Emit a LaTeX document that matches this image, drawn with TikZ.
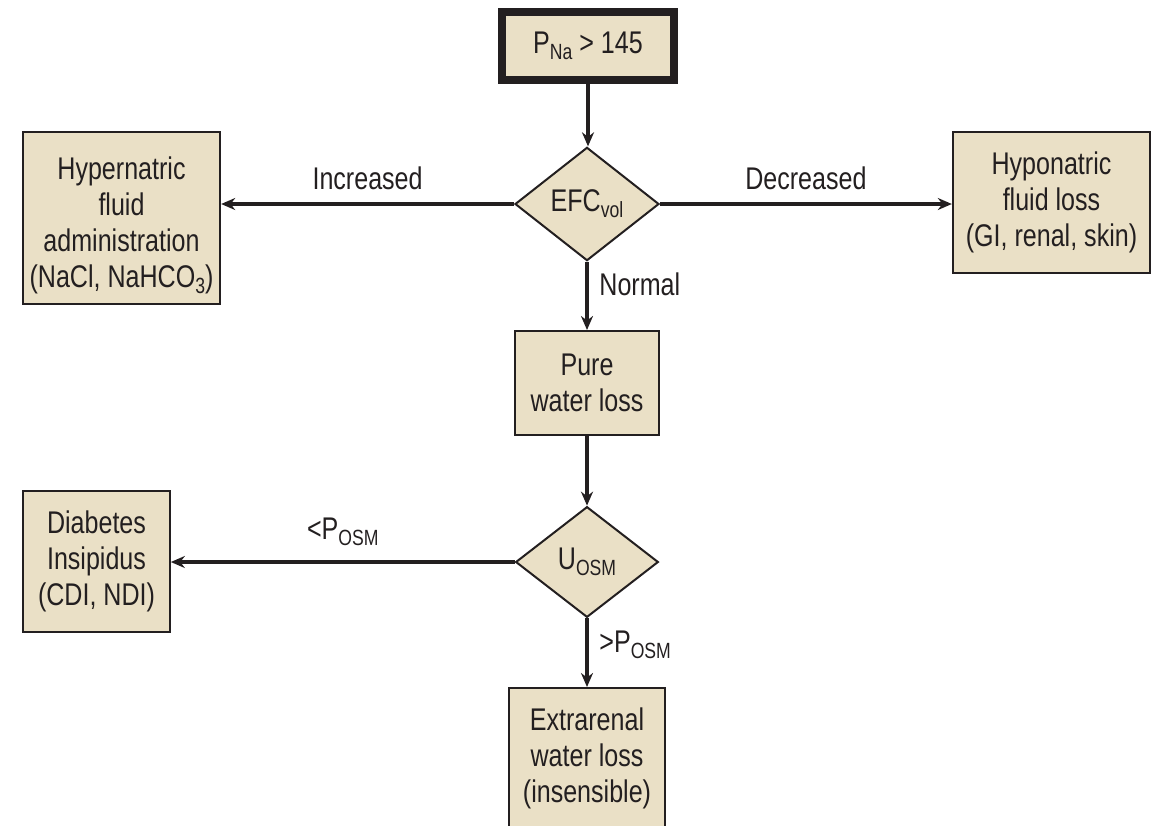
\documentclass[tikz,border=0pt]{standalone}
\usepackage{fontspec}
\setmainfont{Liberation Sans}[FakeStretch=0.8]
\usetikzlibrary{shapes.geometric,arrows.meta}
\definecolor{boxfill}{RGB}{234,224,198}
\definecolor{ink}{RGB}{35,31,32}
% lowered, smaller text used for subscripts
\newcommand\lowtext[1]{\raisebox{-4.5pt}{\fontsize{16.5}{16.5}\selectfont #1}}
\begin{document}
\begin{tikzpicture}[x=0.75pt,y=-0.75pt,
  every node/.style={font=\fontsize{23.5}{27}\selectfont, text=ink},
  box/.style={draw=ink, line width=1.5pt, fill=boxfill, align=center, inner sep=0pt},
  decision/.style={diamond, draw=ink, line width=1.5pt, fill=boxfill, inner sep=0pt, aspect=1.27},
  flow/.style={draw=ink, line width=2.6pt, -{Stealth[length=10.5pt,width=9pt]}},
  tag/.style={inner sep=0pt}]
\useasboundingbox (0,0) rectangle (1159,825);

\node[box, line width=6pt, minimum width=129pt, minimum height=51pt] (pna) at (588,46) {P\lowtext{Na} > 145};
\node[decision, minimum width=108pt, minimum height=85pt] (efc) at (587,204) {EFC\lowtext{vol}};
\node[box, minimum width=148pt, minimum height=129pt] (hyper) at (121.5,218)
  {\rule{0pt}{28pt}Hypernatric\\fluid\\administration\\(NaCl, NaHCO\lowtext{3})};
\node[box, minimum width=148pt, minimum height=106pt] (hypo) at (1051.5,202.5)
  {Hyponatric\\fluid loss\\(GI, renal, skin)};
\node[box, minimum width=108pt, minimum height=78pt] (pure) at (587,383) {Pure\\water loss};
\node[decision, minimum width=107pt, minimum height=83pt] (uosm) at (587,562) {U\lowtext{OSM}};
\node[box, minimum width=110pt, minimum height=106pt] (di) at (96.5,561.5)
  {Diabetes\\Insipidus\\(CDI, NDI)};
\node[box, minimum width=117pt, minimum height=105pt] (extra) at (587,758)
  {Extrarenal\\water loss\\(insensible)};

\draw[flow] (pna.south) -- (pna.south |- efc.north);
\draw[flow] (efc.west) -- (efc.west -| hyper.east)
  node[tag, pos=.5, anchor=base, yshift=11pt] {Increased};
\draw[flow] (efc.east) -- (efc.east -| hypo.west)
  node[tag, pos=.5, anchor=base, yshift=11pt] {Decreased};
\draw[flow] (efc.south) -- (pure.north)
  node[tag, pos=.5, anchor=base west, xshift=8pt] {Normal};
\draw[flow] (pure.south) -- (uosm.north);
\draw[flow] (uosm.west) -- (uosm.west -| di.east)
  node[tag, pos=.5, anchor=base, yshift=17pt] {<P\lowtext{OSM}};
\draw[flow] (uosm.south) -- (extra.north)
  node[tag, pos=.5, anchor=base west, xshift=8pt] {>P\lowtext{OSM}};
\end{tikzpicture}
\end{document}
